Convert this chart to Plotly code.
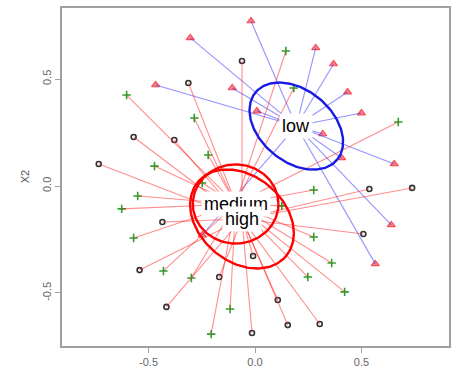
import numpy as np
import plotly.graph_objects as go

# ---- data (ordination scores) ----
low_x = [-0.304, -0.467, -0.019, 0.285, 0.369, -0.107, 0.435, 0.009, 0.500, 0.318, 0.407, 0.654, 0.640, 0.565, -0.248]
low_y = [0.692, 0.472, 0.771, 0.645, 0.570, 0.458, 0.439, 0.350, 0.341, 0.243, 0.131, 0.103, -0.182, -0.364, -0.229]

high_x = [-0.313, -0.570, -0.379, -0.734, -0.061, 0.537, 0.738, 0.509, -0.009, 0.107, 0.154, 0.304, -0.014, -0.168, -0.435, -0.542, -0.416]
high_y = [0.481, 0.229, 0.215, 0.103, 0.584, -0.014, -0.009, -0.224, -0.327, -0.533, -0.650, -0.645, -0.687, -0.425, -0.168, -0.393, -0.565]

med_x = [-0.603, -0.285, -0.220, -0.472, -0.248, 0.145, 0.182, 0.673, 0.276, 0.126, 0.276, 0.360, 0.248, 0.421, -0.117, -0.206, -0.551, -0.626, -0.570, -0.430, -0.299]
med_y = [0.425, 0.318, 0.145, 0.093, 0.014, 0.631, 0.458, 0.299, -0.019, -0.093, -0.238, -0.360, -0.425, -0.495, -0.575, -0.692, -0.047, -0.107, -0.243, -0.397, -0.430]

groups = ["low", "medium", "high"]
center_x = [0.194, -0.091, -0.061]
center_y = [0.280, -0.084, -0.154]
ell_a = [0.248, 0.201, 0.270]
ell_b = [0.168, 0.185, 0.200]
ell_angle = [-39, 0, -40]

x_ticks = [-0.5, 0.0, 0.5]
x_ticktext = ["-0.5", "0.0", "0.5"]
y_ticks = [-0.5, 0.0, 0.5]
y_ticktext = ["-0.5", "0.0", "0.5"]

fig = go.Figure()

pts = {"low": (low_x, low_y), "medium": (med_x, med_y), "high": (high_x, high_y)}
marker_styles = {
    "high": dict(symbol="circle-open", size=5, color="#333333", line=dict(width=1.6, color="#333333")),
    "medium": dict(symbol="cross-thin-open", size=6, color="#2e9e2e", line=dict(width=1.6, color="#2e9e2e")),
    "low": dict(symbol="triangle-up", size=7, color="rgba(230,110,140,0.8)", line=dict(width=1.2, color="#ff4a4a")),
}
spider_col = {"low": "rgba(40,40,255,0.5)", "medium": "rgba(255,30,30,0.5)", "high": "rgba(255,30,30,0.5)"}
ell_col = {"low": "#1a1ae6", "medium": "#ff0000", "high": "#ff0000"}

# points (drawn first, spiders go over them as in the reference)
for g in ["high", "medium", "low"]:
    xs, ys = pts[g]
    fig.add_trace(go.Scatter(x=xs, y=ys, mode="markers", marker=marker_styles[g],
                             showlegend=False, name=g))

# spider lines
for gi, g in enumerate(groups):
    xs, ys = pts[g]
    lx, ly = [], []
    for px, py in zip(xs, ys):
        lx += [center_x[gi], px, None]
        ly += [center_y[gi], py, None]
    fig.add_trace(go.Scatter(x=lx, y=ly, mode="lines",
                             line=dict(color=spider_col[g], width=1.1),
                             hoverinfo="skip", showlegend=False))

# ellipses
t = np.linspace(0, 2 * np.pi, 200)
for gi, g in enumerate(groups):
    th = np.deg2rad(ell_angle[gi])
    ex = center_x[gi] + ell_a[gi] * np.cos(t) * np.cos(th) - ell_b[gi] * np.sin(t) * np.sin(th)
    ey = center_y[gi] + ell_a[gi] * np.cos(t) * np.sin(th) + ell_b[gi] * np.sin(t) * np.cos(th)
    fig.add_trace(go.Scatter(x=ex, y=ey, mode="lines",
                             line=dict(color=ell_col[g], width=2.4),
                             hoverinfo="skip", showlegend=False))

# labels
for gi, g in enumerate(groups):
    fig.add_annotation(x=center_x[gi], y=center_y[gi], text=g, showarrow=False,
                       font=dict(family="Liberation Sans, Arial", size=18, color="black"),
                       bgcolor="white", borderpad=2, xanchor="center", yanchor="middle")

# axis titles
fig.add_annotation(x=0.5, y=-0.098, xref="paper", yref="paper", text="X1", showarrow=False,
                   xanchor="center", yanchor="top",
                   font=dict(family="Liberation Sans, Arial", size=11, color="#555555"))
fig.add_annotation(x=-0.095, y=0.5, xref="paper", yref="paper", text="X2", showarrow=False,
                   textangle=-90, xanchor="center", yanchor="middle",
                   font=dict(family="Liberation Sans, Arial", size=11, color="#555555"))

axis_common = dict(showgrid=False, zeroline=False, showline=True, mirror=True,
                   linecolor="#a0a0a0", linewidth=1.5, ticks="outside", ticklen=5,
                   tickcolor="#a0a0a0", tickwidth=1.2,
                   tickfont=dict(family="Liberation Sans, Arial", size=11, color="#666666"))

fig.update_xaxes(range=[-0.9065, 0.9112], tickvals=x_ticks, ticktext=x_ticktext, **axis_common)
fig.update_yaxes(range=[-0.7477, 0.8318], tickvals=y_ticks, ticktext=y_ticktext, tickangle=-90, **axis_common)

fig.update_layout(width=457, height=382, margin=dict(l=62, r=6, t=8, b=36),
                  paper_bgcolor="white", plot_bgcolor="white", showlegend=False)

fig.write_html("out.html")
